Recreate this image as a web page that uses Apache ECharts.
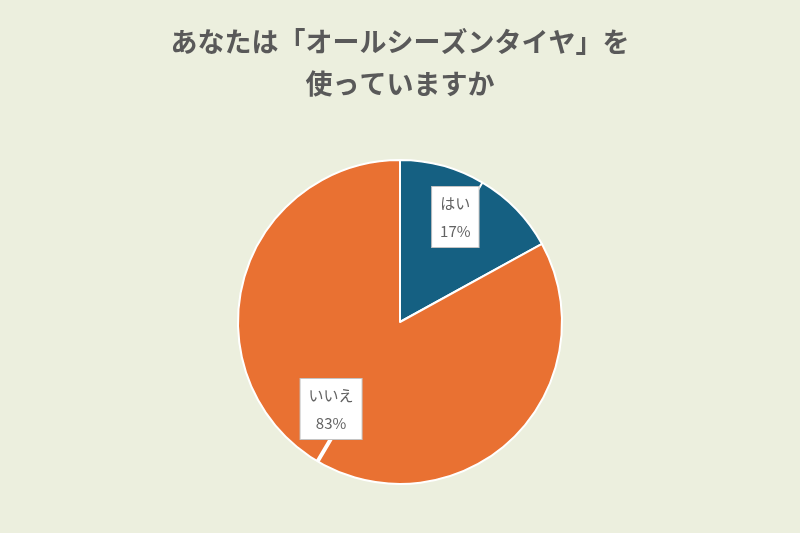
<!DOCTYPE html>
<html><head><meta charset="utf-8">
<script src="https://cdn.jsdelivr.net/npm/echarts@6/dist/echarts.min.js"></script>
<style>html,body{margin:0;padding:0;background:#ECEFDE;}#c{width:800px;height:533px;}</style>
</head><body><div id="c"></div>
<script>
const titleText = 'あなたは「オールシーズンタイヤ」を\n使っていますか';
const categories = ['はい', 'いいえ'];
const values = [17, 83];
const colors = ['#156082', '#E97132'];
// callout pointer geometry (styling): inward radial length, horizontal length, width
const pointerLen = [-40, -61];
const pointerLen2 = [-30, -13];
const pointerWidth = [2, 4];

const pieBase = {
  type: 'pie',
  center: [400, 322], radius: 162,
  startAngle: 90, clockwise: true,
  avoidLabelOverlap: false,
  silent: true
};

const chart = echarts.init(document.getElementById('c'));
chart.setOption({
  backgroundColor: '#ECEFDE',
  animation: false,
  title: {
    text: titleText, left: 'center', top: 16,
    textStyle: { fontFamily: 'Noto Sans CJK JP', fontSize: 27, fontWeight: 'bold', color: '#595959', lineHeight: 42 }
  },
  series: [
    Object.assign({}, pieBase, {
      z: 2,
      itemStyle: { borderColor: '#ffffff', borderWidth: 2 },
      label: { show: false }, labelLine: { show: false },
      data: categories.map((c, i) => ({ name: c, value: values[i], itemStyle: { color: colors[i] } }))
    }),
    Object.assign({}, pieBase, {
      z: 5,
      itemStyle: { color: 'rgba(0,0,0,0)', borderWidth: 0 },
      data: categories.map((c, i) => ({
        name: c, value: values[i],
        labelLine: { length: pointerLen[i], length2: pointerLen2[i], lineStyle: { width: pointerWidth[i] } }
      })),
      label: {
        show: true, position: 'outside', distanceToLabelLine: 0,
        formatter: p => '{c|' + p.name + '}\n{c|' + Math.round(p.percent) + '%}',
        fontFamily: 'Noto Sans CJK JP', fontSize: 15, color: '#636363', lineHeight: 28,
        backgroundColor: '#ffffff', borderColor: '#c4c4c4', borderWidth: 1,
        padding: [2, 8],
        rich: { c: { align: 'center', fontFamily: 'Noto Sans CJK JP', fontSize: 15, color: '#636363', lineHeight: 28 } }
      },
      labelLine: { show: true, minTurnAngle: 0, maxSurfaceAngle: 180, lineStyle: { color: '#ffffff', width: 3 } }
    })
  ]
});
</script></body></html>
